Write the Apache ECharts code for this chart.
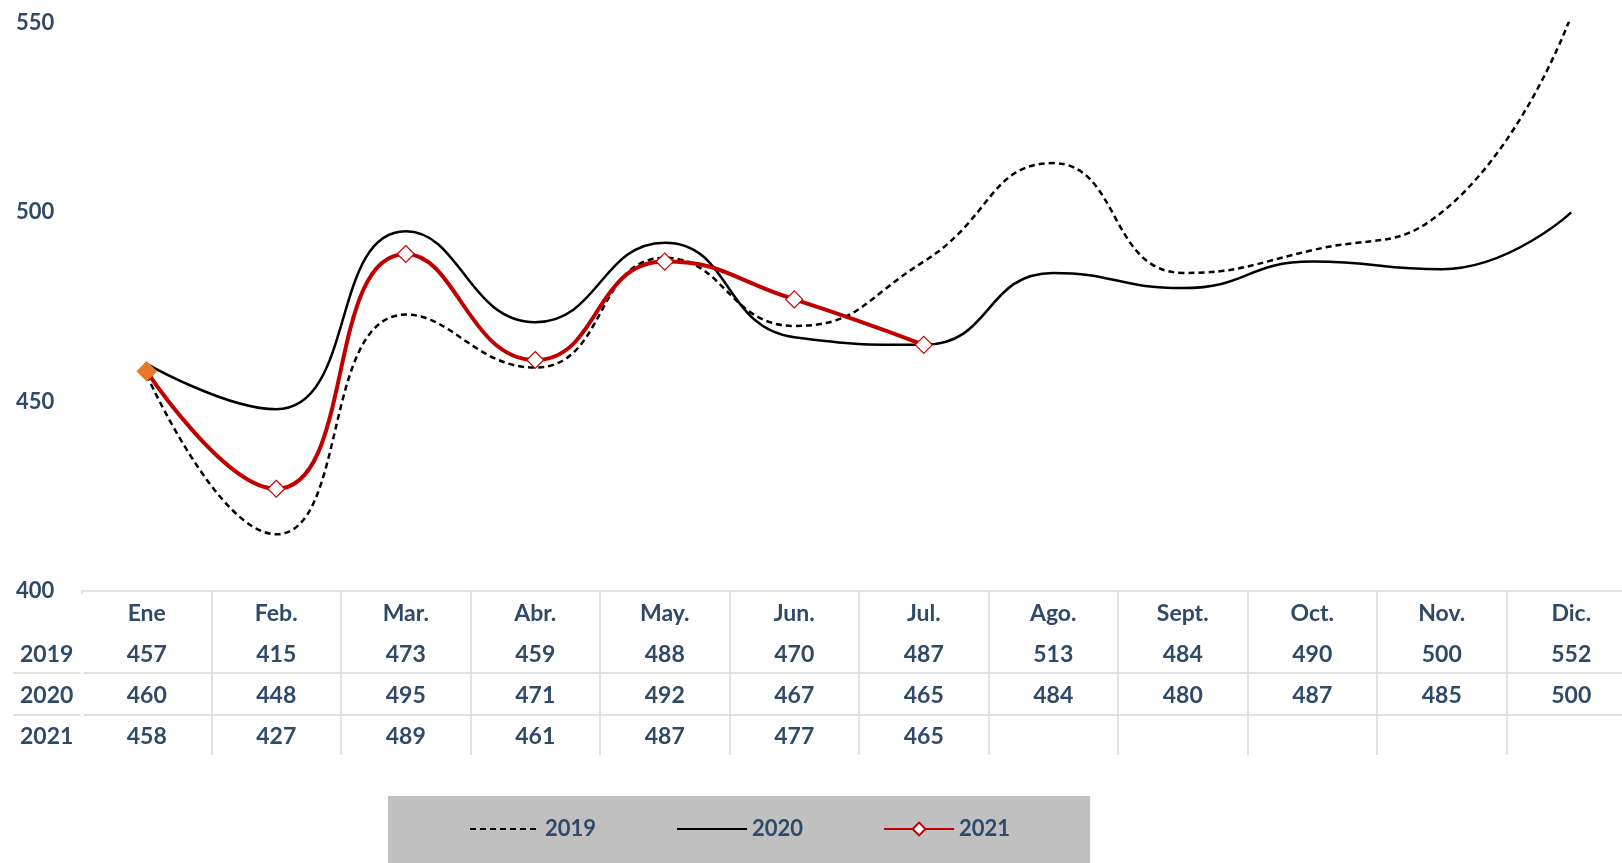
<!DOCTYPE html>
<html>
<head>
<meta charset="utf-8">
<script src="https://cdn.jsdelivr.net/npm/echarts@6/dist/echarts.min.js"></script>
<style>
  html, body { margin: 0; padding: 0; background: #fff; }
  #chart { width: 1622px; height: 863px; }
</style>
</head>
<body>
<div id="chart"></div>
<script>
const months = ['Ene', 'Feb.', 'Mar.', 'Abr.', 'May.', 'Jun.', 'Jul.', 'Ago.', 'Sept.', 'Oct.', 'Nov.', 'Dic.']
const years = ['2019', '2020', '2021']
const v2019 = [457, 415, 473, 459, 488, 470, 487, 513, 484, 490, 500, 552]
const v2020 = [460, 448, 495, 471, 492, 467, 465, 484, 480, 487, 485, 500]
const v2021 = [458, 427, 489, 461, 487, 477, 465, null, null, null, null, null]
const yMin = 400
const yMax = 550
const yStep = 50

const textColor = '#2f4a68'
const gridColor = '#d9d9d9'
const font = 'Lato'

const chart = echarts.init(document.getElementById('chart'))

const fmt = v => (v == null ? ' ' : String(v))
const rowY = [656, 697, 738]

chart.setOption({
  backgroundColor: '#fff',
  textStyle: { fontFamily: font },
  // plot runs past the right edge, like the cropped original
  grid: { left: 82, width: 1554, top: 23, bottom: 272, outerBoundsMode: 'none', containLabel: false },
  xAxis: {
    type: 'category',
    data: months,
    boundaryGap: true,
    axisLine: { lineStyle: { color: gridColor, width: 1.5 } },
    axisTick: {
      show: true,
      interval: 0,
      length: 164,
      lineStyle: { color: gridColor, width: 1.5 }
    },
    axisLabel: {
      interval: 0,
      margin: 2,
      formatter: (value, i) => [
        '{h|' + value + '}',
        '{v|' + fmt(v2019[i]) + '}',
        '{v|' + fmt(v2020[i]) + '}',
        '{v|' + fmt(v2021[i]) + '}'
      ].join('\n'),
      rich: {
        h: { fontFamily: font, fontSize: 23, fontWeight: 'bold', color: textColor, lineHeight: 41 },
        v: { fontFamily: font, fontSize: 23, fontWeight: 'bold', color: textColor, lineHeight: 41 }
      }
    }
  },
  yAxis: {
    type: 'value',
    min: yMin,
    max: yMax,
    interval: yStep,
    axisLine: { show: false },
    axisTick: { show: false },
    splitLine: { show: false },
    axisLabel: {
      align: 'left',
      margin: 66,
      fontFamily: font,
      fontSize: 22,
      fontWeight: 'bold',
      color: textColor
    }
  },
  legend: {
    left: 388,
    top: 796,
    padding: [22, 80, 30, 81],
    backgroundColor: '#c0c0c0',
    itemWidth: 70,
    itemHeight: 16,
    itemGap: 80,
    textStyle: { fontFamily: font, fontSize: 22, fontWeight: 'bold', color: textColor },
    data: [
      { name: '2019', itemStyle: { opacity: 0 } },
      { name: '2020', itemStyle: { opacity: 0 } },
      { name: '2021' }
    ]
  },
  graphic: [
    // no separator on the left edge of the first column
    { type: 'line', shape: { x1: 82, y1: 594, x2: 82, y2: 760 }, style: { stroke: '#fff', lineWidth: 3 }, silent: true, z: 100 },
    { type: 'line', shape: { x1: 13, y1: 673, x2: 1622, y2: 673 }, style: { stroke: gridColor, lineWidth: 1.5 }, silent: true },
    { type: 'line', shape: { x1: 13, y1: 715, x2: 1622, y2: 715 }, style: { stroke: gridColor, lineWidth: 1.5 }, silent: true }
  ].concat(years.map((y, i) => ({
    type: 'text',
    left: 20,
    top: rowY[i] - 13,
    style: { text: y, font: 'bold 23px ' + font, fill: textColor }
  }))),
  series: [
    {
      name: '2019',
      type: 'line',
      data: v2019,
      smooth: 0.5,
      symbol: 'none',
      clip: false,
      lineStyle: { color: '#000', width: 2.5, type: [6, 4] },
      itemStyle: { color: '#000' }
    },
    {
      name: '2020',
      type: 'line',
      data: v2020,
      smooth: 0.5,
      symbol: 'none',
      clip: false,
      lineStyle: { color: '#000', width: 2.5 },
      itemStyle: { color: '#000' }
    },
    {
      name: '2021',
      type: 'line',
      data: v2021.map((v, i) => i === 0
        ? { value: v, symbolSize: 19, itemStyle: { color: '#e8792b', borderColor: '#e8792b' } }
        : v),
      smooth: 0.5,
      symbol: 'diamond',
      symbolSize: 17,
      showAllSymbol: true,
      clip: false,
      z: 3,
      lineStyle: { color: '#c00000', width: 4 },
      itemStyle: { color: '#fff', borderColor: '#c00000', borderWidth: 1.2 }
    }
  ]
})
</script>
</body>
</html>
